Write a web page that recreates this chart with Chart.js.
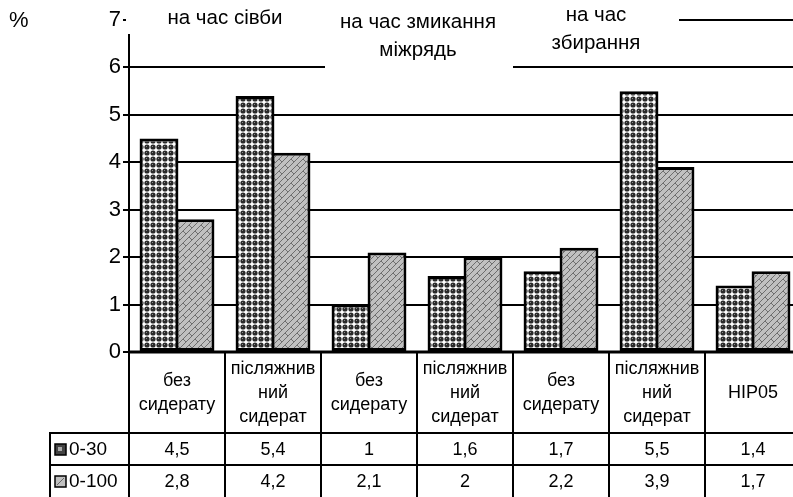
<!DOCTYPE html>
<html>
<head>
<meta charset="utf-8">
<script src="https://cdn.jsdelivr.net/npm/chart.js@4/dist/chart.umd.min.js"></script>
<style>
  html, body { margin: 0; padding: 0; background: #fff; overflow: hidden; }
  #wrap { width: 793px; height: 497px; overflow: hidden; }
</style>
</head>
<body>
<div id="wrap"><canvas id="chart" width="812" height="497"></canvas></div>
<script>
const categories = [
  ['без', 'сидерату'],
  ['післяжнив', 'ний', 'сидерат'],
  ['без', 'сидерату'],
  ['післяжнив', 'ний', 'сидерат'],
  ['без', 'сидерату'],
  ['післяжнив', 'ний', 'сидерат'],
  ['НІР05']
];
const periods = [
  ['на час сівби'],
  ['на час змикання', 'міжрядь'],
  ['на час', 'збирання']
];
const series_names = ['0-30', '0-100'];
const layer_0_30 = [4.5, 5.4, 1, 1.6, 1.7, 5.5, 1.4];
const layer_0_100 = [2.8, 4.2, 2.1, 2, 2.2, 3.9, 1.7];

const FONT = 'Arial, "Liberation Sans", sans-serif';

// fill patterns like the old excel hatch
function dots_pattern() {
  const c = document.createElement('canvas');
  c.width = 6; c.height = 6;
  const g = c.getContext('2d');
  g.fillStyle = '#fff';
  g.fillRect(0, 0, 6, 6);
  g.fillStyle = '#2a2a2a';
  g.beginPath();
  g.arc(3, 3, 2.6, 0, Math.PI * 2);
  g.fill();
  g.fillStyle = '#8a8a8a';
  g.fillRect(2, 2, 1, 1);
  return g.createPattern(c, 'repeat');
}

function brick_pattern() {
  const c = document.createElement('canvas');
  c.width = 12; c.height = 12;
  const g = c.getContext('2d');
  g.fillStyle = '#c0c0c0';
  g.fillRect(0, 0, 12, 12);
  g.strokeStyle = '#6e6e6e';
  g.lineWidth = 1;
  g.beginPath();
  g.moveTo(0, 12); g.lineTo(12, 0);
  g.moveTo(-6, 12); g.lineTo(6, 0);
  g.moveTo(6, 12); g.lineTo(18, 0);
  g.moveTo(3, 3); g.lineTo(6, 6);
  g.moveTo(9, 9); g.lineTo(12, 12);
  g.stroke();
  return g.createPattern(c, 'repeat');
}

const fills = [dots_pattern(), brick_pattern()];

function fmt(v) {
  return String(v).replace('.', ',');
}

const table_plugin = {
  id: 'table_plugin',
  afterDraw(chart) {
    const ctx = chart.ctx;
    const xs = chart.scales.x;
    const area = chart.chartArea;
    const step = xs.getPixelForValue(1) - xs.getPixelForValue(0);
    const edges = [];
    for (let i = 0; i <= categories.length; i++) {
      edges.push(xs.getPixelForValue(i) - step / 2);
    }
    ctx.save();

    // % sign
    ctx.fillStyle = '#000';
    ctx.font = '22px ' + FONT;
    ctx.textAlign = 'left';
    ctx.textBaseline = 'middle';
    ctx.fillText('%', 9, 21);

    // period labels sit on white boxes over the top gridlines
    ctx.fillStyle = '#fff';
    ctx.fillRect(edges[0] - 3, 0, edges[2] + 4 - (edges[0] - 3), 34);
    ctx.fillRect(edges[2] + 4, 0, edges[4] - edges[2] - 4, 78);
    ctx.fillRect(edges[4], 0, edges[6] - 26 - edges[4], 58);

    ctx.fillStyle = '#000';
    ctx.font = '20.5px ' + FONT;
    ctx.textAlign = 'center';
    ctx.fillText(periods[0][0], edges[1], 18);
    ctx.fillText(periods[1][0], edges[3] + 1, 22);
    ctx.fillText(periods[1][1], edges[3] + 1, 50);
    ctx.fillText(periods[2][0], edges[5] - 13, 15);
    ctx.fillText(periods[2][1], edges[5] - 13, 43);

    // table under the axis
    const y0 = area.bottom;
    const y1 = 433, y2 = 465, y3 = 497;
    ctx.strokeStyle = '#000';
    ctx.lineWidth = 2;
    ctx.beginPath();
    edges.forEach(x => { ctx.moveTo(x, y0); ctx.lineTo(x, y3); });
    ctx.moveTo(50, y1); ctx.lineTo(edges[edges.length - 1], y1);
    ctx.moveTo(50, y2); ctx.lineTo(edges[edges.length - 1], y2);
    ctx.moveTo(50, y1 - 1); ctx.lineTo(50, y3);
    ctx.stroke();
    ctx.lineWidth = 3;
    ctx.beginPath();
    ctx.moveTo(edges[0] - 1, y0); ctx.lineTo(edges[edges.length - 1], y0);
    ctx.stroke();

    ctx.font = '18px ' + FONT;
    ctx.textAlign = 'center';
    const mid = (y0 + y1) / 2 + 1;
    categories.forEach((lines, i) => {
      const cx = xs.getPixelForValue(i);
      const lh = 24;
      const start = mid - (lines.length - 1) * lh / 2;
      lines.forEach((t, j) => ctx.fillText(t, cx, start + j * lh));
      ctx.fillText(fmt(layer_0_30[i]), cx, (y1 + y2) / 2 + 1);
      ctx.fillText(fmt(layer_0_100[i]), cx, (y2 + y3) / 2 + 1);
    });

    // legend keys
    ctx.textAlign = 'left';
    ctx.font = '19px ' + FONT;
    [[y1, y2], [y2, y3]].forEach((r, k) => {
      const cy = (r[0] + r[1]) / 2;
      ctx.fillStyle = k === 0 ? '#444' : '#c0c0c0';
      ctx.fillRect(55, cy - 5, 11, 11);
      ctx.strokeStyle = '#000';
      ctx.lineWidth = 1.5;
      ctx.strokeRect(55, cy - 5, 11, 11);
      if (k === 1) {
        ctx.strokeStyle = '#666';
        ctx.lineWidth = 1;
        ctx.beginPath();
        ctx.moveTo(57, cy + 4); ctx.lineTo(64, cy - 3);
        ctx.stroke();
      } else {
        ctx.fillStyle = '#aaa';
        ctx.fillRect(58, cy - 2, 4, 4);
      }
      ctx.fillStyle = '#000';
      ctx.fillText(series_names[k], 69, cy + 1);
    });
    ctx.restore();
  }
};

new Chart(document.getElementById('chart'), {
  type: 'bar',
  data: {
    labels: categories,
    datasets: [
      {
        label: series_names[0],
        data: layer_0_30,
        backgroundColor: fills[0],
        borderColor: '#000',
        borderWidth: 3,
        borderSkipped: false
      },
      {
        label: series_names[1],
        data: layer_0_100,
        backgroundColor: fills[1],
        borderColor: '#000',
        borderWidth: 3,
        borderSkipped: false
      }
    ]
  },
  options: {
    responsive: false,
    animation: false,
    events: [],
    datasets: {
      bar: { categoryPercentage: 0.75, barPercentage: 1.08 }
    },
    layout: { padding: { left: 0, right: 11, top: 20, bottom: 145 } },
    plugins: {
      legend: { display: false },
      tooltip: { enabled: false }
    },
    scales: {
      x: {
        display: false
      },
      y: {
        min: 0,
        max: 7,
        afterFit: s => { s.width = 129; },
        ticks: {
          stepSize: 1,
          color: '#000',
          padding: 2,
          font: { family: FONT, size: 22 }
        },
        grid: {
          color: '#000',
          lineWidth: 2,
          tickLength: 6
        },
        border: { color: '#000', width: 2 }
      }
    }
  },
  plugins: [table_plugin]
});
</script>
</body>
</html>
